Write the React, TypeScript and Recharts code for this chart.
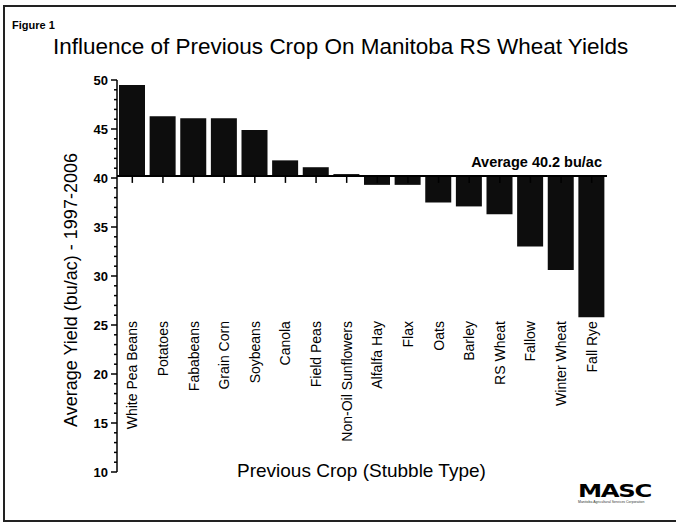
import { BarChart, Bar, XAxis, YAxis, ReferenceLine, ReferenceDot, Label } from 'recharts';

// previous crop (stubble type) and the RS wheat yield after it, bu/ac 1997-2006
const crops = [
  'White Pea Beans', 'Potatoes', 'Fababeans', 'Grain Corn', 'Soybeans', 'Canola',
  'Field Peas', 'Non-Oil Sunflowers', 'Alfalfa Hay', 'Flax', 'Oats', 'Barley',
  'RS Wheat', 'Fallow', 'Winter Wheat', 'Fall Rye',
];
const yields = [49.5, 46.3, 46.1, 46.1, 44.9, 41.8, 41.1, 40.4, 39.3, 39.3, 37.5, 37.1, 36.3, 33.0, 30.6, 25.8];
const AVERAGE = 40.2;

const yTicks = [
  10, 11, 12, 13, 14, 15, 16, 17, 18, 19, 20, 21, 22, 23, 24, 25, 26, 27, 28, 29, 30,
  31, 32, 33, 34, 35, 36, 37, 38, 39, 40, 41, 42, 43, 44, 45, 46, 47, 48, 49, 50,
];
const labelledTicks = [10, 15, 20, 25, 30, 35, 40, 45, 50];
const CROP_LABEL_TOP = 25.4; // crop names hang below this value

const data = crops.map((crop, i) => ({ crop, yield: yields[i] }));

const FONT = '"Liberation Sans", Arial, sans-serif';

const YTick = ({ x, y, payload }: any) => {
  const major = labelledTicks.includes(payload.value);
  return (
    <g>
      <line x1={x - (major ? 6 : 3)} x2={x} y1={y} y2={y} stroke="#000" strokeWidth={1.5} />
      {major && (
        <text x={x - 9} y={y} dy="0.35em" textAnchor="end" fontSize={13} fontWeight="bold" fontFamily={FONT} fill="#000">
          {payload.value}
        </text>
      )}
    </g>
  );
};

const CropName = ({ cx, cy, name }: any) => (
  <text
    x={cx}
    y={cy}
    dy="0.36em"
    transform={`rotate(-90, ${cx}, ${cy})`}
    textAnchor="end"
    fontSize={14}
    fontFamily={FONT}
    fill="#000"
  >
    {name}
  </text>
);

export default function App() {
  return (
    <div style={{ position: 'absolute', left: 0, top: 0, width: 676, height: 523, background: '#fff', overflow: 'hidden', fontFamily: FONT }}>
      {/* frame */}
      <div style={{ position: 'absolute', left: 3, top: 5, width: 700, height: 513, borderLeft: '2px solid #222', borderTop: '2px solid #222', borderBottom: '2px solid #222' }} />

      <div style={{ position: 'absolute', left: 12, top: 20, fontSize: 11, lineHeight: 1, fontWeight: 'bold' }}>Figure 1</div>
      <div style={{ position: 'absolute', left: 53, top: 36, fontSize: 22.5, lineHeight: 1, whiteSpace: 'nowrap' }}>
        Influence of Previous Crop On Manitoba RS Wheat Yields
      </div>

      <BarChart width={676} height={523} data={data} margin={{ top: 80, right: 69, bottom: 51, left: 0 }}>
        <XAxis dataKey="crop" hide />
        <YAxis
          type="number"
          domain={[10, 50]}
          ticks={yTicks}
          interval={0}
          width={117}
          tickSize={0}
          tickMargin={0}
          tickLine={false}
          tick={<YTick />}
          axisLine={{ stroke: '#000', strokeWidth: 1.5 }}
        >
          <Label
            content={({ viewBox }: any) => {
              const lx = viewBox.x + 71;
              const ly = viewBox.y + viewBox.height / 2 + 14;
              return (
                <text x={lx} y={ly} dy="0.35em" transform={`rotate(-90, ${lx}, ${ly})`} textAnchor="middle" fontSize={18} fontFamily={FONT} fill="#000">
                  Average Yield (bu/ac) - 1997-2006
                </text>
              );
            }}
          />
        </YAxis>

        <Bar
          dataKey={(d: any) => [Math.min(AVERAGE, d.yield), Math.max(AVERAGE, d.yield)]}
          fill="#0d0d0d"
          barSize={26}
          isAnimationActive={false}
        />

        {crops.map((c) => (
          <ReferenceLine key={`tick-${c}`} segment={[{ x: c, y: AVERAGE }, { x: c, y: 39.5 }]} stroke="#000" strokeWidth={1.5} />
        ))}

        <ReferenceLine y={AVERAGE} stroke="#000" strokeWidth={2}>
          <Label
            content={({ viewBox }: any) => (
              <text x={viewBox.x + viewBox.width - 5} y={viewBox.y - 9} textAnchor="end" fontSize={14.5} fontWeight="bold" fontFamily={FONT} fill="#000">
                Average 40.2 bu/ac
              </text>
            )}
          />
        </ReferenceLine>

        {crops.map((c) => (
          <ReferenceDot key={`name-${c}`} x={c} y={CROP_LABEL_TOP} r={0} shape={(p: any) => <CropName {...p} name={c} />} />
        ))}
      </BarChart>

      <div style={{ position: 'absolute', left: 237, top: 461, fontSize: 19, lineHeight: 1, whiteSpace: 'nowrap' }}>
        Previous Crop (Stubble Type)
      </div>

      {/* MASC logo */}
      <div style={{ position: 'absolute', left: 578, top: 482, fontSize: 18, lineHeight: 1, fontWeight: 900, letterSpacing: -1, transform: 'scaleX(1.35)', transformOrigin: 'left top', fontFamily: '"DejaVu Sans", sans-serif' }}>
        MASC
      </div>
      <div style={{ position: 'absolute', left: 578, top: 501, fontSize: 3.5, lineHeight: 1, whiteSpace: 'nowrap', color: '#333' }}>
        Manitoba Agricultural Services Corporation
      </div>
    </div>
  );
}
